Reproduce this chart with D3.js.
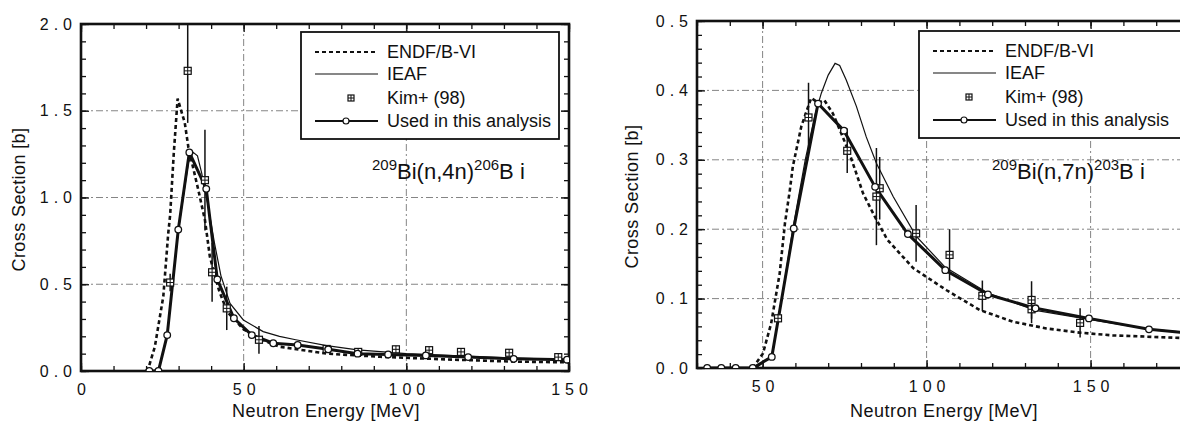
<!DOCTYPE html>
<html>
<head>
<meta charset="utf-8">
<script src="https://cdnjs.cloudflare.com/ajax/libs/d3/7.8.5/d3.min.js"></script>
<style>
body {
  margin: 0;
  background: #fff;
  font-family: "Liberation Sans", Arial, Helvetica, sans-serif;
}
svg text { fill: #111; }
.tick text { font-size: 16px; letter-spacing: 5px; }
.tick line { stroke: #111; stroke-width: 1.3; }
.grid { stroke: #777; stroke-width: 0.9; stroke-dasharray: 7,3,2,3; }
.frame { fill: none; stroke: #111; stroke-width: 2.6; }
</style>
</head>
<body>
<div id="chart"></div>
<script>
// ---- data: 209Bi(n,4n)206Bi  [energy MeV, cross section b] ----
const endf4n = [[20,0],[20.7,0.015],[22.7,0.14],[25.3,0.43],[26.8,0.79],[27.4,0.9],[28.5,1.25],[29.7,1.57],[31.9,1.43],
  [33,1.29],[36.1,1.04],[38.1,0.87],[39.6,0.66],[41,0.56],[42.5,0.46],[45,0.34],[50,0.24],[55,0.185],[61,0.14],
  [75.5,0.10],[92,0.082],[112,0.067],[133,0.054],[150,0.05]];
const ieaf4n = [[22.5,0],[24,0.02],[26.5,0.21],[30,0.82],[33,1.2],[34.5,1.26],[35.8,1.24],[37.1,1.14],[39,0.96],
  [41,0.74],[43,0.55],[45.8,0.39],[49.9,0.294],[56,0.227],[61,0.2],[66,0.18],[75.5,0.146],[85,0.122],[100,0.1],
  [125,0.08],[150,0.065]];
const used4n = [[21,0],[23.8,0],[26.5,0.207],[29.9,0.815],[33.3,1.26],[38.5,1.05],[41.9,0.528],[47,0.304],
  [52.5,0.207],[59.1,0.16],[66.6,0.15],[76,0.125],[85,0.1],[94.4,0.095],[106,0.09],[119,0.08],[133,0.07],[149.4,0.065]];
// [energy, value, error]
const kim4n = [[27.4,0.51,0.05],[32.8,1.73,0.3],[38.1,1.1,0.29],[40.3,0.569,0.17],[44.8,0.361,0.125],[54.7,0.18,0.08],
  [75.5,0.127,0.012],[85.2,0.11,0.02],[96.8,0.125,0.012],[107,0.12,0.012],[116.8,0.11,0.012],[131.6,0.105,0.018],
  [146.7,0.08,0.01]];

// ---- data: 209Bi(n,7n)203Bi ----
const endf7n = [[47,0],[50.1,0.021],[52.6,0.064],[55.2,0.136],[56.8,0.208],[58.3,0.256],[59.2,0.29],[61.8,0.348],
  [64.8,0.389],[67,0.382],[68.8,0.386],[71.4,0.367],[74,0.338],[76.5,0.309],[78.6,0.28],[80.6,0.252],[84,0.22],
  [88,0.185],[95.9,0.144],[106.1,0.112],[116.2,0.0836],[126.3,0.0667],[136.5,0.057],[146.6,0.051],[156.7,0.047],
  [185,0.042]];
const ieaf7n = [[48,0],[52.8,0.018],[55,0.075],[59.2,0.2],[63,0.3],[66,0.365],[67.9,0.396],[70,0.422],[72.1,0.439],
  [73.5,0.436],[75.5,0.415],[78.6,0.377],[81.6,0.333],[84.7,0.295],[89.8,0.247],[96.8,0.19],[105.7,0.145],
  [118.7,0.108],[133.2,0.083],[149.5,0.07],[167.8,0.056],[185,0.049]];
const used7n = [[33.1,0],[37.4,0],[41.8,0],[47,0],[52.8,0.016],[59.5,0.201],[66.9,0.381],[74.8,0.342],[84.3,0.261],
  [94.3,0.193],[105.7,0.141],[118.7,0.106],[133.2,0.086],[149.5,0.0715],[167.8,0.0557],[185,0.048]];
const kim7n = [[54.7,0.0716,0.006],[64,0.361,0.05],[75.8,0.313,0.032],[85.7,0.259,0.045],[84.7,0.247,0.07],
  [96.8,0.194,0.041],[107,0.163,0.037],[117,0.104,0.022],[132,0.098,0.027],[132,0.0846,0.02],[146.8,0.065,0.021]];

// ---- tick labels ----
const xTicks4n = [0, 50, 100, 150];
const yTicks4n = [0, 0.5, 1.0, 1.5, 2.0];
const xTicks7n = [50, 100, 150];
const yTicks7n = [0, 0.1, 0.2, 0.3, 0.4, 0.5];
const legendLabels = ["ENDF/B-VI", "IEAF", "Kim+ (98)", "Used in this analysis"];

const svg = d3.select("#chart").append("svg")
  .attr("width", 1180)
  .attr("height", 424);

function drawPanel(p) {
  const x = d3.scaleLinear().domain(p.xDomain).range(p.xRange);
  const y = d3.scaleLinear().domain(p.yDomain).range(p.yRange);
  const g = svg.append("g");
  const [x0, x1] = p.xRange, [y0, y1] = p.yRange;

  g.append("clipPath").attr("id", p.id + "clip")
    .append("rect").attr("x", x0).attr("y", y1).attr("width", x1 - x0).attr("height", y0 - y1);

  // grid lines at major ticks
  g.selectAll(".gx").data(p.xTicks.filter(d => x(d) > x0 + 2 && x(d) < x1 - 2)).enter()
    .append("line").attr("class", "grid")
    .attr("x1", d => x(d)).attr("x2", d => x(d)).attr("y1", y1).attr("y2", y0);
  g.selectAll(".gy").data(p.yTicks.filter(d => y(d) < y0 - 2 && y(d) > y1 + 2)).enter()
    .append("line").attr("class", "grid")
    .attr("x1", x0).attr("x2", x1).attr("y1", d => y(d)).attr("y2", d => y(d));

  // minor ticks (inward, all four sides)
  const xMinor = d3.range(p.xDomain[0], p.xDomain[1] + 0.001, p.xMinor);
  const yMinor = d3.range(p.yDomain[0], p.yDomain[1] + 1e-6, p.yMinor);
  g.append("g").attr("transform", `translate(0,${y0})`)
    .call(d3.axisBottom(x).tickValues(xMinor).tickSize(-5).tickFormat(""));
  g.append("g").attr("transform", `translate(0,${y1})`)
    .call(d3.axisTop(x).tickValues(xMinor).tickSize(-5).tickFormat(""));
  g.append("g").attr("transform", `translate(${x0},0)`)
    .call(d3.axisLeft(y).tickValues(yMinor).tickSize(-5).tickFormat(""));
  g.append("g").attr("transform", `translate(${x1},0)`)
    .call(d3.axisRight(y).tickValues(yMinor).tickSize(-5).tickFormat(""));

  // major ticks with labels
  g.append("g").attr("transform", `translate(0,${y0})`)
    .call(d3.axisBottom(x).tickValues(p.xTicks).tickSize(-8).tickPadding(13).tickFormat(d3.format("d")))
    .selectAll("text").attr("dx", "2.5px");
  g.append("g").attr("transform", `translate(0,${y1})`)
    .call(d3.axisTop(x).tickValues(p.xTicks).tickSize(-8).tickFormat(""));
  g.append("g").attr("transform", `translate(${x0},0)`)
    .call(d3.axisLeft(y).tickValues(p.yTicks).tickSize(-8).tickPadding(4).tickFormat(d3.format(".1f")));
  g.append("g").attr("transform", `translate(${x1},0)`)
    .call(d3.axisRight(y).tickValues(p.yTicks).tickSize(-8).tickFormat(""));
  g.selectAll(".domain").remove();
  g.selectAll(".tick text").style("font-family", "'Liberation Sans', Arial, sans-serif");

  g.append("rect").attr("class", "frame")
    .attr("x", x0).attr("y", y1).attr("width", x1 - x0).attr("height", y0 - y1);

  // data
  const plot = g.append("g").attr("clip-path", `url(#${p.id}clip)`);
  const line = d3.line().x(d => x(d[0])).y(d => y(d[1]));

  plot.append("path").datum(p.endf).attr("d", line)
    .attr("fill", "none").attr("stroke", "#111").attr("stroke-width", 2.6).attr("stroke-dasharray", "4,3");
  plot.append("path").datum(p.ieaf).attr("d", line)
    .attr("fill", "none").attr("stroke", "#111").attr("stroke-width", 1.2);
  plot.append("path").datum(p.used).attr("d", line)
    .attr("fill", "none").attr("stroke", "#111").attr("stroke-width", 3).attr("stroke-linejoin", "round");

  // Kim+ (98) error bars and markers
  plot.selectAll(".err").data(p.kim).enter().append("line")
    .attr("x1", d => x(d[0])).attr("x2", d => x(d[0]))
    .attr("y1", d => y(d[1] - d[2])).attr("y2", d => y(d[1] + d[2]))
    .attr("stroke", "#111").attr("stroke-width", 1.5);
  const kg = plot.selectAll(".kim").data(p.kim).enter().append("g")
    .attr("transform", d => `translate(${x(d[0])},${y(d[1])})`);
  kg.append("rect").attr("x", -3.5).attr("y", -3.5).attr("width", 7).attr("height", 7)
    .attr("fill", "#fff").attr("stroke", "#111").attr("stroke-width", 1.2);
  kg.append("path").attr("d", "M-3.5,0H3.5M0,-3.5V3.5").attr("stroke", "#111").attr("stroke-width", 1);

  plot.selectAll(".pt").data(p.used).enter().append("circle")
    .attr("cx", d => x(d[0])).attr("cy", d => y(d[1])).attr("r", 3.3)
    .attr("fill", "#fff").attr("stroke", "#111").attr("stroke-width", 1.3);

  // axis titles
  g.append("text")
    .attr("transform", `translate(${p.yTitleX},${(y0 + y1) / 2 + 2}) rotate(-90)`)
    .attr("text-anchor", "middle").style("font-size", "18px").style("letter-spacing", "0.4px")
    .text("Cross Section [b]");
  g.append("text")
    .attr("x", p.xTitleX).attr("y", 417)
    .attr("text-anchor", "middle").style("font-size", "18px").style("letter-spacing", "0.5px")
    .text("Neutron Energy [MeV]");

  // reaction label
  const lab = g.append("text").attr("x", p.labelX).attr("y", 179).style("font-size", "22px");
  lab.append("tspan").attr("dy", "-9").style("font-size", "15px").text(p.label[0]);
  lab.append("tspan").attr("dy", "9").text(p.label[1]);
  lab.append("tspan").attr("dy", "-9").style("font-size", "15px").text(p.label[2]);
  lab.append("tspan").attr("dy", "9").text(p.label[3]);

  // legend
  const lx = p.legend[0], ly = p.legend[1];
  const lg = g.append("g").attr("transform", `translate(${lx},${ly})`);
  lg.append("rect").attr("width", p.legend[2]).attr("height", 107)
    .attr("fill", "#fff").attr("stroke", "#111").attr("stroke-width", 1.8);
  const rows = [20, 42, 66, 89];
  legendLabels.forEach((t, i) => {
    lg.append("text").attr("x", 86).attr("y", rows[i]).attr("dy", "0.35em")
      .style("font-size", "18px").text(t);
  });
  lg.append("line").attr("x1", 14).attr("x2", 77).attr("y1", rows[0]).attr("y2", rows[0])
    .attr("stroke", "#111").attr("stroke-width", 2).attr("stroke-dasharray", "4,3");
  lg.append("line").attr("x1", 14).attr("x2", 77).attr("y1", rows[1]).attr("y2", rows[1])
    .attr("stroke", "#111").attr("stroke-width", 1.2);
  lg.append("rect").attr("x", 47).attr("y", rows[2] - 3).attr("width", 6).attr("height", 6)
    .attr("fill", "#fff").attr("stroke", "#111").attr("stroke-width", 1.2);
  lg.append("path").attr("d", `M47,${rows[2]}H53M50,${rows[2] - 3}V${rows[2] + 3}`)
    .attr("stroke", "#111").attr("stroke-width", 1);
  lg.append("line").attr("x1", 14).attr("x2", 77).attr("y1", rows[3]).attr("y2", rows[3])
    .attr("stroke", "#111").attr("stroke-width", 1.8);
  lg.append("circle").attr("cx", 45).attr("cy", rows[3]).attr("r", 3)
    .attr("fill", "#fff").attr("stroke", "#111").attr("stroke-width", 1.2);
}

drawPanel({
  id: "p4n",
  xDomain: [0, 150], xRange: [81, 569],
  yDomain: [0, 2], yRange: [371, 24],
  xTicks: xTicks4n, yTicks: yTicks4n, xMinor: 10, yMinor: 0.1,
  endf: endf4n, ieaf: ieaf4n, used: used4n, kim: kim4n,
  yTitleX: 25, xTitleX: 326, labelX: 372,
  label: ["209", "Bi(n,4n)", "206", "B i"],
  legend: [301, 32, 258]
});

drawPanel({
  id: "p7n",
  xDomain: [30, 180], xRange: [697, 1189],
  yDomain: [0, 0.5], yRange: [368, 21],
  xTicks: xTicks7n, yTicks: yTicks7n, xMinor: 10, yMinor: 0.02,
  endf: endf7n, ieaf: ieaf7n, used: used7n, kim: kim7n,
  yTitleX: 638, xTitleX: 944, labelX: 992,
  label: ["209", "Bi(n,7n)", "203", "B i"],
  legend: [919, 31, 280]
});
</script>
</body>
</html>
